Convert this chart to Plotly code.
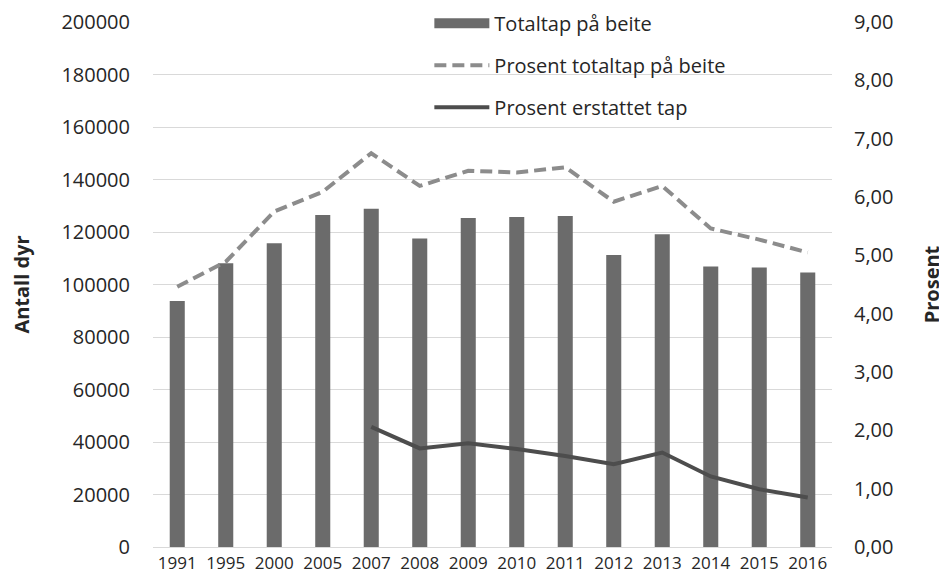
import plotly.graph_objects as go

years = ["1991", "1995", "2000", "2005", "2007", "2008", "2009", "2010",
         "2011", "2012", "2013", "2014", "2015", "2016"]
totaltap = [93700, 108100, 115700, 126500, 128900, 117500, 125300, 125700,
            126100, 111200, 119100, 106900, 106500, 104600]
prosent_totaltap = [4.46, 4.89, 5.75, 6.09, 6.75, 6.19, 6.45, 6.42,
                    6.51, 5.92, 6.19, 5.46, 5.27, 5.05]
prosent_erstattet = [None, None, None, None, 2.06, 1.69, 1.78, 1.68,
                     1.56, 1.42, 1.62, 1.21, 0.99, 0.85]

left_ticks = list(range(0, 200001, 20000))
right_ticks = list(range(0, 10))

FONT = "Open Sans"
TXT = "#262626"
BAR = "#6b6b6b"

fig = go.Figure()
fig.add_trace(go.Bar(
    x=years, y=totaltap, name="Totaltap på beite",
    marker=dict(color=BAR, line=dict(width=0)),
    legendgroup="a", showlegend=False, yaxis="y"))
# legend entry for the bars (wide rectangle like the original)
fig.add_trace(go.Scatter(
    x=[None], y=[None], name="Totaltap på beite", mode="lines",
    line=dict(color=BAR, width=13), legendgroup="a", yaxis="y"))
fig.add_trace(go.Scatter(
    x=years, y=prosent_totaltap, name="Prosent totaltap på beite",
    mode="lines", line=dict(color="#8c8c8c", width=4, dash="12px,6px"),
    legendgroup="b", yaxis="y2"))
fig.add_trace(go.Scatter(
    x=years, y=prosent_erstattet, name="Prosent erstattet tap",
    mode="lines", line=dict(color="#4d4d4d", width=4),
    legendgroup="c", yaxis="y2", connectgaps=False))

fig.update_layout(
    width=939, height=575,
    margin=dict(l=145, r=115, t=14, b=36, autoexpand=False),
    paper_bgcolor="white", plot_bgcolor="white",
    font=dict(family=FONT, size=20, color=TXT),
    separators=", ",
    bargap=0.69,
    showlegend=True,
    legend=dict(x=0.407, y=1.035, xanchor="left", yanchor="top",
                bgcolor="rgba(0,0,0,0)", font=dict(size=20, color=TXT),
                tracegroupgap=13, itemwidth=55, traceorder="grouped"),
    xaxis=dict(type="category", showgrid=False, showline=False,
               ticks="", tickfont=dict(size=17), ticklabelstandoff=4),
    yaxis=dict(range=[0, 200000], tickvals=left_ticks, tickformat="d",
               showgrid=True, gridcolor="#d9d9d9", gridwidth=1,
               zeroline=True, zerolinecolor="#d9d9d9", zerolinewidth=1,
               ticks="", ticklabelstandoff=22, tickfont=dict(size=20),
               title=dict(text="<b>Antall dyr</b>", standoff=32,
                          font=dict(size=20))),
    yaxis2=dict(range=[0, 9], tickvals=right_ticks, tickformat=".2f",
                overlaying="y", side="right", showgrid=False,
                zeroline=False, ticks="", ticklabelstandoff=21,
                tickfont=dict(size=20),
                title=dict(text="<b>Prosent</b>", standoff=32,
                           font=dict(size=20))),
)

fig.write_html("out.html")
